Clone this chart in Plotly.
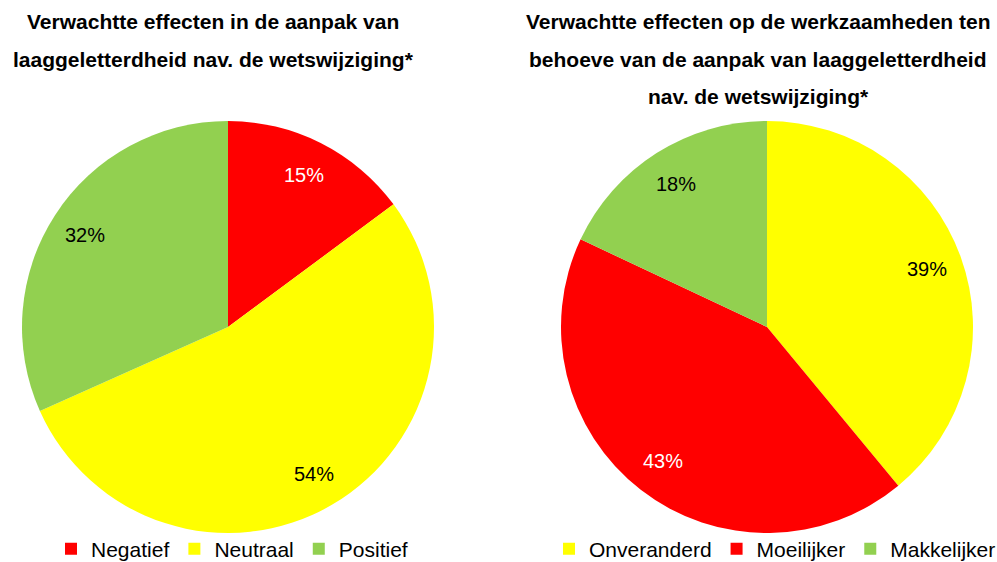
import math
import plotly.graph_objects as go

# ---- data ----
left_labels = ["Negatief", "Neutraal", "Positief"]
left_values = [15, 54, 32]
right_labels = ["Onveranderd", "Moeilijker", "Makkelijker"]
right_values = [39, 43, 18]
left_title = ["Verwachtte effecten in de aanpak van",
              "laaggeletterdheid nav. de wetswijziging*"]
right_title = ["Verwachtte effecten op de werkzaamheden ten",
               "behoeve van de aanpak van laaggeletterdheid",
               "nav. de wetswijziging*"]

# ---- styles ----
RED, YELLOW, GREEN = "#FF0000", "#FFFF00", "#92D050"
left_colors = [RED, YELLOW, GREEN]
right_colors = [YELLOW, RED, GREEN]
left_text_colors = ["white", "black", "black"]
right_text_colors = ["black", "white", "black"]
FONT = "Liberation Sans, Arial, sans-serif"

W, H = 997, 562
R = 206
LC = (228, 327)
RC = (767, 327)


def px_x(x):
    return x / W


def px_y(y):
    return 1 - y / H


def domain(c):
    return dict(x=[px_x(c[0] - R), px_x(c[0] + R)],
                y=[px_y(c[1] + R), px_y(c[1] - R)])


fig = go.Figure()
fig.add_trace(go.Pie(labels=left_labels, values=left_values, sort=False,
                     direction="clockwise", rotation=0, textinfo="none",
                     hoverinfo="label+percent",
                     marker=dict(colors=left_colors, line=dict(width=0)),
                     domain=domain(LC), legend="legend"))
fig.add_trace(go.Pie(labels=right_labels, values=right_values, sort=False,
                     direction="clockwise", rotation=0, textinfo="none",
                     hoverinfo="label+percent",
                     marker=dict(colors=right_colors, line=dict(width=0)),
                     domain=domain(RC), legend="legend2"))

annotations = []


def add_labels(values, center, colors):
    total = sum(values)
    cum = 0
    for v, col in zip(values, colors):
        mid = (cum + v / 2) / total * 2 * math.pi
        cum += v
        rr = 0.825 * R
        x = center[0] + rr * math.sin(mid)
        y = center[1] - rr * math.cos(mid)
        annotations.append(dict(x=px_x(x), y=px_y(y), xref="paper", yref="paper",
                                text=f"{v}%", showarrow=False,
                                xanchor="center", yanchor="middle",
                                font=dict(family=FONT, size=20, color=col)))


add_labels(left_values, LC, left_text_colors)
add_labels(right_values, RC, right_text_colors)


def add_title(lines, cx):
    for i, line in enumerate(lines):
        annotations.append(dict(x=px_x(cx), y=px_y(22 + i * 37.5), xref="paper", yref="paper",
                                text=f"<b>{line}</b>", showarrow=False,
                                xanchor="center", yanchor="middle",
                                font=dict(family=FONT, size=21, color="black")))


add_title(left_title, 213)
add_title(right_title, 758)

legend_common = dict(orientation="h", xanchor="center", yanchor="middle",
                     font=dict(family=FONT, size=21, color="black"),
                     bgcolor="rgba(0,0,0,0)", borderwidth=0)

fig.update_layout(
    width=W, height=H,
    margin=dict(l=0, r=0, t=0, b=0, autoexpand=False),
    paper_bgcolor="white", plot_bgcolor="white",
    annotations=annotations,
    legend=dict(x=px_x(232), y=px_y(549), **legend_common),
    legend2=dict(x=px_x(775), y=px_y(549), **legend_common),
)

fig.write_html("out.html", config={"displayModeBar": False},
               post_script="document.body.style.margin='0';document.body.style.overflow='hidden';")
